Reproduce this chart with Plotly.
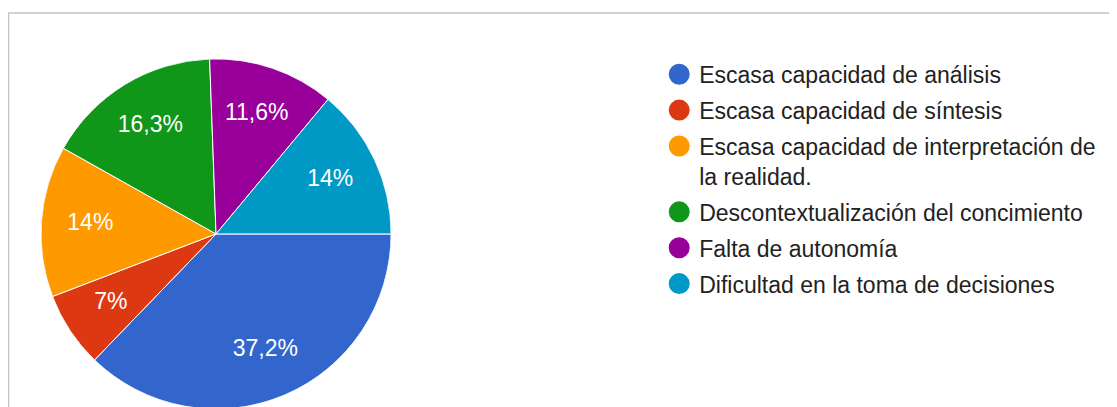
import plotly.graph_objects as go

# Google Forms style answer summary, 43 responses
categorias = [
    "Escasa capacidad de análisis",
    "Escasa capacidad de síntesis",
    "Escasa capacidad de interpretación de<br>la realidad.",
    "Descontextualización del concimiento",
    "Falta de autonomía",
    "Dificultad en la toma de decisiones",
]
respuestas = [16, 3, 6, 7, 5, 6]
colores = ["#3366cc", "#dc3912", "#ff9900", "#109618", "#990099", "#0099c6"]

TEXT = "#222222"
FONT = "Liberation Sans, Arial, sans-serif"

total = sum(respuestas)
shares = [v / total for v in respuestas]
widths = [s * 360 for s in shares]
# mid angle of each slice, clockwise from 3 o'clock where the first slice starts
mids = []
acc = 0
for v in respuestas:
    mids.append((acc + v / 2) / total * 360)
    acc += v

fig = go.Figure()

# pie drawn as polar wedges so the labels can sit on top of it
fig.add_trace(go.Barpolar(
    r=[1] * len(respuestas),
    theta=mids,
    width=widths,
    marker=dict(color=colores, line=dict(color="white", width=1)),
    customdata=categorias,
    hovertemplate="%{customdata}<extra></extra>",
    showlegend=False,
))

fig.add_trace(go.Scatterpolar(
    r=[0.72] * len(respuestas),
    theta=mids,
    customdata=shares,
    mode="text",
    texttemplate="%{customdata:.1~%}",
    textposition="middle center",
    textfont=dict(color="white", size=23, family=FONT),
    showlegend=False,
    hoverinfo="skip",
))

# legend entries with round markers, one group each to control spacing
for i, (cat, col) in enumerate(zip(categorias, colores)):
    fig.add_trace(go.Scatter(
        x=[None], y=[None],
        mode="markers",
        name=cat,
        legendgroup=str(i),
        marker=dict(color=col, size=16, symbol="circle", line=dict(color=col, width=5)),
        showlegend=True,
    ))

fig.update_layout(
    width=1117,
    height=407,
    paper_bgcolor="white",
    plot_bgcolor="white",
    separators=",.",
    font=dict(family=FONT, color=TEXT, size=23),
    margin=dict(l=0, r=0, t=0, b=0, autoexpand=False),
    xaxis=dict(visible=False),
    yaxis=dict(visible=False),
    polar=dict(
        domain=dict(x=[0.0295, 0.343], y=[0.0147, 0.875]),
        bgcolor="rgba(0,0,0,0)",
        hole=0,
        radialaxis=dict(visible=False, range=[0, 1]),
        angularaxis=dict(visible=False, rotation=0, direction="clockwise"),
    ),
    legend=dict(
        x=0.583, y=0.89,
        xanchor="left", yanchor="top",
        font=dict(family=FONT, color=TEXT, size=23),
        valign="top",
        tracegroupgap=3,
        bgcolor="rgba(0,0,0,0)",
    ),
    shapes=[dict(
        type="rect", xref="paper", yref="paper",
        x0=0.0005, x1=1.02, y0=-0.03, y1=0.988,
        line=dict(color="#c4c4c4", width=1.5),
        fillcolor="rgba(0,0,0,0)",
        layer="below",
    )],
)

fig.write_html("out.html")
